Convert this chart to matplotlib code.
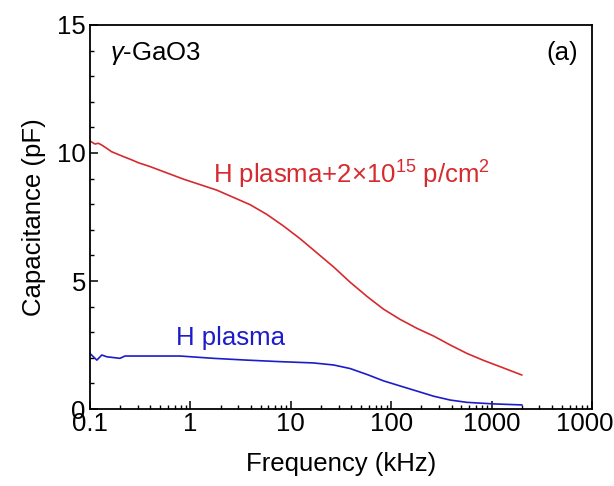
import matplotlib
matplotlib.use("Agg")
import matplotlib.pyplot as plt
from matplotlib.ticker import LogLocator, MultipleLocator, FixedLocator, FixedFormatter

# frequency (kHz) / capacitance (pF)
freq_hp_irr = [0.1, 0.112, 0.121, 0.131, 0.147, 0.164, 0.215, 0.261, 0.303, 0.396,
               0.851, 1.83, 3.94, 5.78, 8.45, 12.4, 18.2, 26.7, 39.1, 57.4,
               83.9, 123, 181, 265, 388, 570, 832, 1225, 2000]
cap_hp_irr = [10.47, 10.35, 10.38, 10.31, 10.18, 10.05, 9.86, 9.73, 9.62, 9.47,
              8.98, 8.55, 7.98, 7.60, 7.15, 6.65, 6.10, 5.55, 4.95, 4.40,
              3.90, 3.50, 3.15, 2.85, 2.50, 2.17, 1.90, 1.65, 1.33]

freq_hp = [0.1, 0.117, 0.131, 0.147, 0.199, 0.223, 0.367, 0.79, 1.69, 3.65,
           7.83, 16.8, 26.7, 39.1, 57.4, 83.9, 123, 181, 265, 388, 570, 1050, 2000]
cap_hp = [2.17, 1.91, 2.11, 2.04, 1.98, 2.07, 2.07, 2.07, 1.98, 1.91,
          1.85, 1.80, 1.72, 1.58, 1.35, 1.10, 0.90, 0.70, 0.50, 0.35, 0.26, 0.20, 0.16]

x_ticks = [0.1, 1, 10, 100, 1000, 10000]
x_ticklabels = ["0.1", "1", "10", "100", "1000", "10000"]

plt.rcParams.update({
    "font.family": "Liberation Sans",
    "font.size": 18.5,
    "mathtext.fontset": "custom",
    "mathtext.rm": "Liberation Sans",
    "mathtext.it": "Liberation Sans:italic",
    "mathtext.bf": "Liberation Sans:bold",
})

fig = plt.figure(figsize=(6.14, 4.86), dpi=100)
ax = fig.add_axes([0.1466, 0.1584, 0.8174, 0.7902])

ax.plot(freq_hp_irr, cap_hp_irr, color="#d62a2e", lw=1.2)
ax.plot(freq_hp, cap_hp, color="#1c1cc8", lw=1.2)

ax.set_xscale("log")
ax.set_xlim(0.1, 10000)
ax.set_ylim(0, 15)

ax.xaxis.set_major_locator(FixedLocator(x_ticks))
ax.xaxis.set_major_formatter(FixedFormatter(x_ticklabels))
ax.xaxis.set_minor_locator(LogLocator(base=10, subs=range(2, 10)))
ax.yaxis.set_major_locator(MultipleLocator(5))
ax.yaxis.set_minor_locator(MultipleLocator(1))

ax.tick_params(which="both", direction="in", top=False, right=False, pad=2)
ax.tick_params(which="major", length=6, width=1.1)
ax.tick_params(which="minor", length=3, width=1.0)
ax.tick_params(axis="y", pad=3)
for s in ax.spines.values():
    s.set_linewidth(1.3)

ax.set_xlabel("Frequency (kHz)", labelpad=12)
ax.set_ylabel("Capacitance (pF)", labelpad=8)

ax.text(0.04, 0.927, r"$\gamma$-GaO3", transform=ax.transAxes,
        ha="left", va="center", fontsize=18.5)
ax.text(0.972, 0.927, "(a)", transform=ax.transAxes,
        ha="right", va="center", fontsize=18.5)
ax.text(1.68, 9.14, r"H plasma+2$\times$10$^{15}$ p/cm$^{2}$",
        color="#d62a2e", ha="left", va="center")
ax.text(0.72, 2.77, "H plasma", color="#1c1cc8", ha="left", va="center")

fig.savefig("out.png", dpi=100, facecolor="white")
